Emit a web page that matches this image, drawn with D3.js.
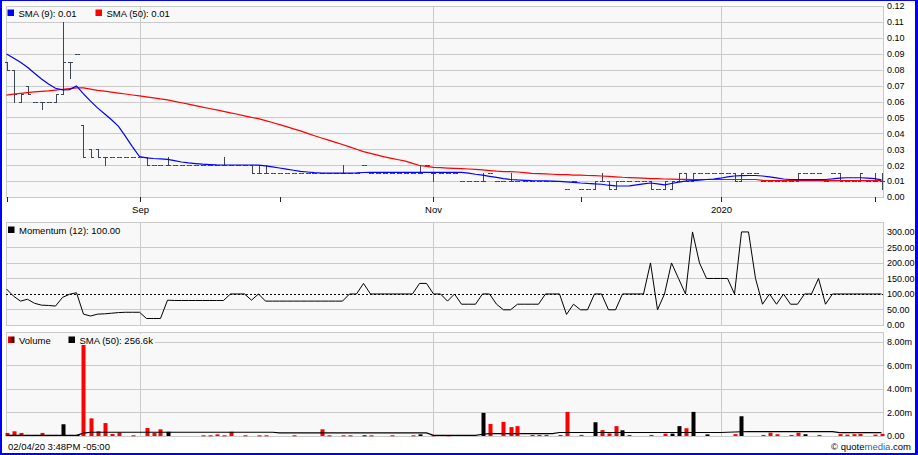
<!DOCTYPE html>
<html><head><meta charset="utf-8">
<script src="https://cdn.jsdelivr.net/npm/d3@7"></script>
<style>
html,body{margin:0;padding:0;background:#fff;}
svg{display:block;font-family:"Liberation Sans",Arial,sans-serif;}
</style></head><body>
<svg id="c" width="918" height="455"></svg>
<script>
// ---------- DATA (bar index 0..125, Aug 2019 - Feb 4 2020) ----------
const xTickIdx   = [0, 19, 39, 61, 82, 102, 124];
const xTickLabel = ["", "Sep", "", "Nov", "", "2020", ""];
const priceTicks = [0,0.01,0.02,0.03,0.04,0.05,0.06,0.07,0.08,0.09,0.10,0.11,0.12];
const momTicks   = [0,50,100,150,200,250,300];
const volTicks   = [0,2,4,6,8];

const open = [
.085,.080,.060,.070,.060,.060,.060,.060,.065,.085,
.090,.045,.030,.030,.025,.025,.025,.025,.025,.025,
.025,.020,.020,.020,.020,.020,.020,.020,.020,.020,
.020,.020,.020,.020,.020,.020,.015,.015,.015,.015,
.015,.015,.015,.015,.015,.015,.015,.015,.015,.015,
.015,.020,.015,.015,.015,.015,.015,.015,.015,.015,
.020,.015,.015,.015,.015,.010,.010,.010,.010,.015,
.010,.010,.010,.010,.010,.010,.010,.010,.010,.010,
.005,.010,.005,.005,.005,.010,.010,.005,.010,.010,
.010,.010,.010,.005,.005,.005,.010,.015,.010,.015,
.015,.015,.015,.015,.015,.010,.015,.015,.010,.010,
.010,.010,.010,.010,.015,.015,.015,.010,.015,.015,
.010,.010,.010,.010,.010,.010];
const high = [
.085,.080,.065,.070,.060,.060,.060,.065,.110,.085,
.090,.045,.030,.030,.025,.025,.025,.025,.025,.025,
.025,.020,.020,.025,.020,.020,.020,.020,.020,.020,
.020,.025,.020,.020,.020,.020,.020,.020,.015,.015,
.015,.015,.015,.015,.015,.015,.015,.015,.020,.015,
.015,.020,.015,.015,.015,.015,.015,.015,.015,.020,
.020,.015,.015,.015,.015,.010,.010,.010,.015,.015,
.010,.010,.015,.010,.010,.010,.010,.010,.010,.010,
.005,.010,.005,.005,.010,.015,.010,.010,.010,.010,
.010,.010,.010,.005,.010,.010,.015,.015,.015,.015,
.015,.015,.015,.015,.015,.015,.015,.015,.010,.010,
.010,.010,.010,.015,.015,.015,.015,.010,.015,.015,
.010,.010,.015,.010,.015,.015];
const low = [
.080,.060,.060,.065,.060,.055,.060,.060,.065,.075,
.090,.025,.025,.025,.020,.025,.025,.025,.025,.025,
.020,.020,.020,.020,.020,.020,.020,.020,.020,.020,
.020,.020,.020,.020,.020,.015,.015,.015,.015,.015,
.015,.015,.015,.015,.015,.015,.015,.015,.015,.015,
.015,.020,.015,.015,.015,.015,.015,.015,.015,.015,
.020,.010,.015,.015,.015,.010,.010,.010,.010,.015,
.010,.010,.010,.010,.010,.010,.010,.010,.010,.010,
.005,.010,.005,.005,.005,.010,.005,.005,.010,.010,
.010,.010,.005,.005,.005,.005,.010,.010,.010,.015,
.015,.015,.015,.015,.010,.010,.015,.015,.010,.010,
.010,.010,.010,.010,.015,.015,.015,.010,.015,.010,
.010,.010,.010,.010,.010,.005];
const close = [
.080,.065,.065,.065,.060,.060,.060,.065,.085,.085,
.090,.025,.025,.025,.025,.025,.025,.025,.025,.025,
.020,.020,.020,.020,.020,.020,.020,.020,.020,.020,
.020,.020,.020,.020,.020,.015,.015,.015,.015,.015,
.015,.015,.015,.015,.015,.015,.015,.015,.015,.015,
.015,.020,.015,.015,.015,.015,.015,.015,.015,.015,
.020,.015,.015,.015,.015,.010,.010,.010,.010,.015,
.010,.010,.010,.010,.010,.010,.010,.010,.010,.010,
.005,.010,.005,.005,.010,.010,.005,.010,.010,.010,
.010,.010,.005,.005,.010,.010,.015,.010,.015,.015,
.015,.015,.015,.015,.010,.015,.015,.015,.010,.010,
.010,.010,.010,.015,.015,.015,.015,.010,.015,.010,
.010,.010,.015,.010,.010,.010];
const sma9 = [
.0898,.0873,.0846,.0815,.0777,.0742,.0710,.0683,.0673,.0675,
.0698,.0648,.0602,.0560,.0523,.0485,.0444,.0381,.0315,.0254,
.0246,.0242,.0240,.0236,.0228,.0220,.0214,.0210,.0206,.0204,
.0202,.0201,.0201,.0201,.0201,.0201,.0200,.0195,.0189,.0182,
.0175,.0168,.0161,.0157,.0153,.0150,.0150,.0150,.0150,.0150,
.0151,.0154,.0155,.0155,.0155,.0155,.0155,.0155,.0155,.0155,
.0155,.0155,.0155,.0155,.0155,.0155,.0150,.0143,.0137,.0130,
.0123,.0116,.0110,.0107,.0105,.0103,.0102,.0101,.0100,.0098,
.0095,.0092,.0088,.0085,.0083,.0080,.0074,.0070,.0069,.0070,
.0076,.0082,.0088,.0082,.0076,.0085,.0094,.0100,.0103,.0106,
.0110,.0113,.0118,.0126,.0132,.0134,.0135,.0135,.0132,.0127,
.0120,.0113,.0110,.0109,.0109,.0109,.0109,.0110,.0114,.0119,
.0121,.0121,.0121,.0119,.0115,.0108];
const sma50 = [
.0640,.0646,.0651,.0656,.0660,.0664,.0667,.0672,.0677,.0681,
.0685,.0685,.0678,.0670,.0665,.0659,.0653,.0647,.0641,.0635,
.0629,.0623,.0616,.0610,.0601,.0592,.0583,.0574,.0565,.0556,
.0547,.0538,.0529,.0520,.0510,.0500,.0492,.0480,.0468,.0455,
.0442,.0428,.0415,.0400,.0385,.0371,.0357,.0343,.0330,.0315,
.0300,.0285,.0274,.0263,.0252,.0243,.0234,.0225,.0211,.0198,
.0192,.0186,.0184,.0182,.0180,.0178,.0176,.0173,.0170,.0166,
.0162,.0160,.0159,.0157,.0153,.0148,.0147,.0145,.0143,.0141,
.0140,.0138,.0137,.0135,.0134,.0132,.0130,.0127,.0124,.0122,
.0120,.0118,.0116,.0115,.0113,.0112,.0111,.0111,.0110,.0110,
.0110,.0110,.0110,.0110,.0110,.0110,.0110,.0110,.0105,.0103,
.0103,.0103,.0103,.0103,.0103,.0103,.0103,.0103,.0103,.0103,
.0103,.0103,.0103,.0103,.0103,.0103];
const momentum = [
116,93,77,83,70,64,63,61,89,99,
104,35,29,35,36,38,40,41,41,41,
21,21,21,80,79,79,79,79,79,79,
79,79,100,100,100,80,100,77,77,77,
77,77,77,77,77,77,77,77,77,100,
100,134,100,100,100,100,100,100,100,134,
134,100,100,77,100,67,67,67,100,100,
67,49,49,67,67,67,67,100,100,100,
34,67,49,49,100,100,49,49,100,100,
100,100,200,49,100,200,150,100,300,200,
150,150,150,150,100,300,300,150,67,100,
67,100,67,67,100,100,150,67,100,100,
100,100,100,100,100,100];
// volume in millions
const volume = [
.26,.40,.26,.09,.09,.26,.09,.09,1.00,.09,
.09,8.0,1.50,.40,1.10,.17,.29,0,.06,0,
.68,.26,.57,.36,0,0,0,0,.06,.06,
.14,.06,.36,0,.06,0,.06,.06,0,0,
0,.06,0,0,0,.57,.06,0,.06,.06,
0,.06,.06,0,0,.06,0,0,.06,.14,
0,.06,0,.06,0,0,0,0,1.97,1.03,
0,1.20,.76,.84,0,.09,.09,.09,0,.09,
2.05,0,.09,0,1.17,.50,.22,.84,.49,.09,
0,0,.09,0,.20,.20,.84,.66,2.05,0,
.14,0,0,0,.16,1.68,0,0,.09,.28,
.15,0,.09,.28,.15,0,.09,0,0,.16,
.12,.16,.18,0,.12,.18];
// 1 = down day (red), 0 = up day (black)
const volDown = [
1,1,1,1,1,1,1,1,0,1,
0,1,1,1,1,1,1,1,1,1,
1,1,1,0,1,1,1,1,1,1,
1,1,1,1,1,1,1,1,1,1,
1,1,1,1,1,1,1,1,1,1,
1,0,1,1,1,1,1,1,1,0,
1,1,1,1,1,1,1,1,0,1,
1,1,1,1,1,1,1,1,1,1,
1,1,1,1,0,1,1,1,0,1,
1,1,1,1,1,0,0,1,0,1,
0,1,1,1,1,0,1,1,1,1,
1,1,1,1,0,1,1,1,1,1,
1,1,1,1,1,1];
const volSma50 = [
.06,.06,.06,.06,.06,.06,.06,.06,.06,.06,
.06,.25,.32,.32,.32,.32,.32,.32,.32,.32,
.32,.32,.32,.32,.32,.32,.32,.32,.32,.32,
.32,.32,.32,.32,.32,.32,.32,.32,.32,.26,
.26,.26,.26,.26,.26,.26,.26,.26,.26,.26,
.26,.26,.26,.26,.26,.26,.26,.26,.26,.26,
.26,.06,.06,.06,.06,.06,.06,.06,.15,.20,
.20,.20,.20,.20,.20,.20,.20,.20,.20,.30,
.30,.30,.30,.30,.30,.30,.30,.30,.30,.30,
.30,.30,.30,.30,.30,.30,.30,.30,.30,.30,
.30,.30,.30,.32,.34,.36,.37,.37,.37,.37,
.37,.37,.37,.37,.37,.37,.37,.37,.37,.28,
.28,.28,.28,.28,.28,.28];

// ---------- DRAWING ----------
const svg = d3.select("#c");
const FS = 9.5, AFS = 9;
const L = 6, R = 883;
const GRID = "#cacaca", BG = "#f8f8f8";
const n = close.length;
const idx = d3.range(n);
const x = d3.scaleLinear().domain([0, n - 1]).range([6.5, 881.5]);
const cx = i => Math.round(x(i)) + 0.5;
const crisp = v => Math.round(v) + 0.5;

// outer blue frame
svg.append("rect").attr("x",0).attr("y",0).attr("width",918).attr("height",455).attr("fill","#0000ff");
svg.append("rect").attr("x",2).attr("y",1).attr("width",913).attr("height",452).attr("fill","#fff");

const yP = d3.scaleLinear().domain([0, 0.12]).range([197, 6]);
const yM = d3.scaleLinear().domain([0, 332]).range([325, 222]);
const yV = d3.scaleLinear().domain([0, 8.85]).range([436, 332]);

function panel(y, gridVals) {
  const top = y.range()[1], bot = y.range()[0];
  const g = svg.append("g");
  g.append("rect").attr("x", L + 0.5).attr("y", top + 0.5).attr("width", R - L).attr("height", bot - top)
    .attr("fill", BG).attr("stroke", GRID);
  g.selectAll("line.h").data(gridVals).enter().append("line")
    .attr("x1", L).attr("x2", R).attr("y1", d => crisp(y(d))).attr("y2", d => crisp(y(d)))
    .attr("stroke", GRID);
  g.selectAll("line.v").data(xTickIdx.filter((d, i) => xTickLabel[i] !== "")).enter().append("line")
    .attr("x1", d => cx(d)).attr("x2", d => cx(d)).attr("y1", top).attr("y2", bot)
    .attr("stroke", GRID);
  return g;
}

function rightAxis(y, vals, fmt) {
  const g = svg.append("g").attr("transform", `translate(${R},0)`)
    .call(d3.axisRight(y).tickValues(vals).tickSize(0).tickPadding(4).tickFormat(fmt));
  g.select(".domain").remove();
  g.attr("font-size", AFS).attr("font-family", null);
  g.selectAll("text").attr("fill", "#000");
}

// ---- price panel ----
panel(yP, priceTicks.filter(d => d > 0 && d < 0.12));
rightAxis(yP, priceTicks, d3.format(".2f"));

const xa = svg.append("g").attr("transform", "translate(0,197)")
  .call(d3.axisBottom(x).tickValues(xTickIdx).tickSize(5).tickPadding(4).tickFormat((d, i) => xTickLabel[i]));
xa.select(".domain").remove();
xa.attr("font-size", FS).attr("font-family", null);
xa.selectAll("line").attr("stroke", "#222");
xa.selectAll(".tick").attr("transform", d => `translate(${cx(d)},0)`);
xa.selectAll("text").attr("fill", "#000");

// OHLC bars
const barCol = "#3a4654";
const bars = svg.append("g").attr("stroke", barCol).attr("stroke-width", 1);
idx.forEach(i => {
  const xc = cx(i);
  if (high[i] !== low[i]) {
    bars.append("line").attr("x1", xc).attr("x2", xc)
      .attr("y1", Math.round(yP(high[i]))).attr("y2", Math.round(yP(low[i])) + 1);
  }
  bars.append("line").attr("x1", xc - 2.5).attr("x2", xc).attr("y1", crisp(yP(open[i]))).attr("y2", crisp(yP(open[i])));
  bars.append("line").attr("x1", xc).attr("x2", xc + 2.5).attr("y1", crisp(yP(close[i]))).attr("y2", crisp(yP(close[i])));
});

const line = (arr, y) => d3.line().x(i => x(i)).y(i => y(arr[i]))(idx);
svg.append("path").attr("d", line(sma50, yP)).attr("fill", "none").attr("stroke", "#ff0000").attr("stroke-width", 1.2);
svg.append("path").attr("d", line(sma9, yP)).attr("fill", "none").attr("stroke", "#0000ff").attr("stroke-width", 1.2);

// legends
function legendItem(xp, yTop, color, label) {
  svg.append("rect").attr("x", xp).attr("y", yTop).attr("width", 6.5).attr("height", 6.5).attr("fill", color);
  svg.append("text").attr("x", xp + 11).attr("y", yTop + 7).attr("font-size", FS).attr("fill", "#000").text(label);
}
legendItem(7.5, 9.5, "#0000ff", "SMA (9): 0.01");
legendItem(95.5, 9.5, "#ff0000", "SMA (50): 0.01");

// ---- momentum panel ----
panel(yM, [50, 150, 200, 250]);
svg.append("line").attr("x1", L).attr("x2", R).attr("y1", crisp(yM(100))).attr("y2", crisp(yM(100)))
  .attr("stroke", "#000").attr("stroke-dasharray", "2,2");
rightAxis(yM, momTicks, d3.format(".2f"));
svg.append("path").attr("d", line(momentum, yM)).attr("fill", "none").attr("stroke", "#000").attr("stroke-width", 1);
legendItem(8, 226.5, "#000", "Momentum (12): 100.00");

// ---- volume panel ----
panel(yV, [2, 4, 6, 8]);
rightAxis(yV, volTicks, d => d === 0 ? "0.00" : d.toFixed(2) + "m");
const gv = svg.append("g");
idx.filter(i => volume[i] > 0).forEach(i => {
  const y0 = yV(0), y1 = Math.max(yV(volume[i]), 333);
  gv.append("rect").attr("x", Math.round(x(i)) - 1.5).attr("width", 4)
    .attr("y", y1).attr("height", Math.max(1, y0 - y1))
    .attr("fill", volDown[i] ? "#ff0000" : "#000");
});
svg.append("path").attr("d", line(volSma50, yV)).attr("fill", "none").attr("stroke", "#000").attr("stroke-width", 1.2);

// volume legend (with background box)
svg.append("rect").attr("x", 7).attr("y", 334).attr("width", 148).attr("height", 11).attr("fill", BG);
const defs = svg.append("defs");
const gr = defs.append("linearGradient").attr("id", "vg");
gr.append("stop").attr("offset", "0%").attr("stop-color", "#ff0000");
gr.append("stop").attr("offset", "100%").attr("stop-color", "#3a0000");
legendItem(8, 336.5, "url(#vg)", "Volume");
legendItem(68.5, 336.5, "#000", "SMA (50): 256.6k");

// ---- footer ----
svg.append("text").attr("x", 8).attr("y", 450).attr("font-size", FS).attr("fill", "#000").text("02/04/20 3:48PM -05:00");
const cp = svg.append("text").attr("x", 911).attr("y", 450).attr("font-size", FS).attr("text-anchor", "end").attr("fill", "#000");
cp.append("tspan").text("© quote");
cp.append("tspan").attr("fill", "#1f5fbf").text("media");
cp.append("tspan").text(".com");
</script>
</body></html>
